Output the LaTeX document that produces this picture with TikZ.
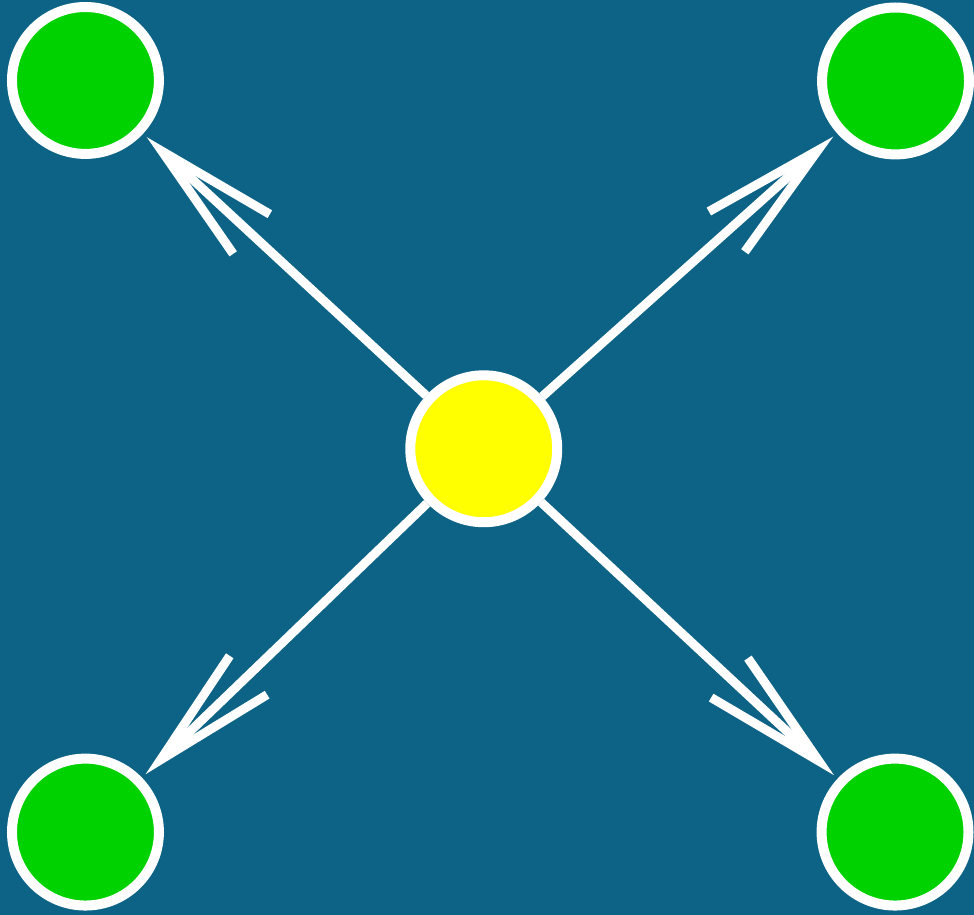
\documentclass[tikz,border=0pt]{standalone}
\usetikzlibrary{arrows.meta}
\definecolor{bgblue}{RGB}{12,99,134}
\definecolor{dotgreen}{RGB}{0,210,0}
\definecolor{hubyellow}{RGB}{255,255,0}
\begin{document}
\begin{tikzpicture}[x=1pt,y=-1pt,
  dot/.style={circle,draw=white,line width=10pt,minimum size=147pt,inner sep=0pt},
  spoke/.style={white,line width=9pt,-{Straight Barb[length=122pt,width=54pt]},shorten >=5pt}]
\fill[bgblue] (0,0) rectangle (974,915);
\node[dot,fill=hubyellow] (hub) at (484,449) {};
\foreach \n/\x/\y in {tl/85.5/80.5,tr/896/81,bl/85.5/832.5,br/895.5/832.5}{
\node[dot,fill=dotgreen] (\n) at (\x,\y) {};
\draw[spoke] (hub) -- (\n);
}
\end{tikzpicture}
\end{document}
